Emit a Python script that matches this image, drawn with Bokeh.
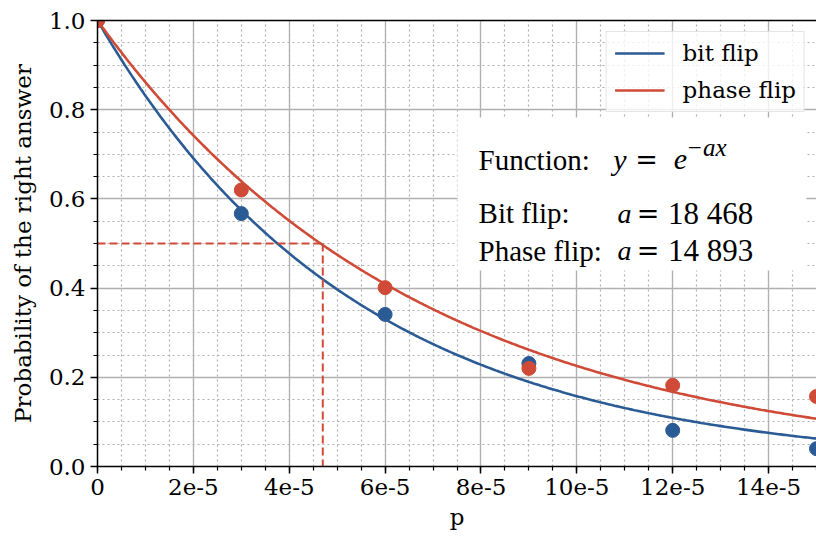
import numpy as np
from bokeh.plotting import figure
from bokeh.models import (FixedTicker, LinearAxis, Range1d, Label, BoxAnnotation,
                          Legend, LegendItem)
from bokeh.embed import file_html
from bokeh.resources import INLINE

# ---------------- data ----------------
p_values = [0.0, 3e-5, 6e-5, 9e-5, 12e-5, 15e-5]
bit_flip_prob = [1.0, 0.567, 0.341, 0.231, 0.081, 0.040]
phase_flip_prob = [1.0, 0.620, 0.401, 0.220, 0.182, 0.157]
fit_a = {"bit flip": 18468, "phase flip": 14893}
series_names = ["bit flip", "phase flip"]
x_ticks = [0.0, 2e-5, 4e-5, 6e-5, 8e-5, 10e-5, 12e-5, 14e-5]
x_tick_labels = ["0", "2e-5", "4e-5", "6e-5", "8e-5", "10e-5", "12e-5", "14e-5"]
y_ticks = [0.0, 0.2, 0.4, 0.6, 0.8, 1.0]
y_tick_labels = ["0.0", "0.2", "0.4", "0.6", "0.8", "1.0"]
half_p = 4.7e-5
half_prob = 0.5
box_lines = ["Function:", "Bit flip:", "Phase flip:"]
a_texts = ["18 468", "14 893"]

BLUE = "#2b5b95"
RED = "#cf4b37"
TICK_FONT = "DejaVu Serif"
BOX_FONT = "Liberation Serif"

p = figure(width=816, height=536, output_backend="svg", toolbar_location=None,
           x_range=Range1d(0, 15e-5), y_range=Range1d(0, 1.0),
           min_border_left=97, min_border_right=0, min_border_top=20,
           min_border_bottom=70, background_fill_color="white",
           border_fill_color="white", outline_line_color=None)

# ticks
x_minor = list(np.round(np.arange(0, 15.01e-5, 0.5e-5), 12))
y_minor = list(np.round(np.arange(0, 1.001, 0.05), 6))
p.xaxis.ticker = FixedTicker(ticks=x_ticks, minor_ticks=x_minor)
p.yaxis.ticker = FixedTicker(ticks=y_ticks, minor_ticks=y_minor)
p.xaxis.major_label_overrides = {t: l for t, l in zip(x_ticks, x_tick_labels)}
p.yaxis.major_label_overrides = {t: l for t, l in zip(y_ticks, y_tick_labels)}

for ax in (p.xaxis[0], p.yaxis[0]):
    ax.axis_line_color = "black"
    ax.axis_line_width = 1.5
    ax.major_tick_line_color = "black"
    ax.major_tick_line_width = 1.5
    ax.minor_tick_line_color = "black"
    ax.minor_tick_line_width = 1.2
    ax.major_tick_out = 7
    ax.major_tick_in = 0
    ax.minor_tick_out = 4
    ax.minor_tick_in = 0
    ax.major_label_text_font = TICK_FONT
    ax.major_label_text_font_size = "23px"
    ax.major_label_text_color = "black"
    ax.major_label_standoff = 5
    ax.axis_label_text_font = TICK_FONT
    ax.axis_label_text_font_size = "23px"
    ax.axis_label_text_font_style = "normal"
    ax.axis_label_text_color = "black"

p.xaxis.axis_label = "p"
p.xaxis.axis_label_standoff = 6
p.yaxis.axis_label = "Probability of the right answer"
p.yaxis.axis_label_standoff = 10

# top spine
top_axis = LinearAxis(ticker=FixedTicker(ticks=[]), axis_line_color="black",
                      axis_line_width=1.5, major_tick_out=0, major_tick_in=0,
                      minor_tick_out=0, minor_tick_in=0, major_label_standoff=0)
p.add_layout(top_axis, "above")

# grids
for g in (p.xgrid[0], p.ygrid[0]):
    g.grid_line_color = "#b0b0b0"
    g.grid_line_width = 1.3
    g.minor_grid_line_color = "#b0b0b0"
    g.minor_grid_line_width = 1.2
    g.minor_grid_line_dash = "2 3"

# fitted curves
x_fit = np.linspace(0, 15e-5, 400)
colors = {"bit flip": BLUE, "phase flip": RED}
curve_r = {}
for name in series_names:
    curve_r[name] = p.line(x_fit, np.exp(-fit_a[name] * x_fit),
                           line_color=colors[name], line_width=2.6)

# half-probability dashed guide
p.line([0, half_p], [half_prob, half_prob], line_color=RED, line_width=2,
       line_dash="8 4")
p.line([half_p, half_p], [half_prob, 0], line_color=RED, line_width=2,
       line_dash="8 4")

# measured points
p.scatter(p_values, bit_flip_prob, size=14, fill_color=BLUE, line_color=BLUE)
p.scatter(p_values, phase_flip_prob, size=14, fill_color=RED, line_color=RED)

# legend
legend = Legend(items=[LegendItem(label=n, renderers=[curve_r[n]]) for n in series_names],
                location="top_right", margin=11, padding=8, spacing=11,
                glyph_width=50, glyph_height=24, label_height=24,
                label_standoff=18, label_text_font=TICK_FONT,
                label_text_font_size="23px", label_text_color="black",
                border_line_color="#cccccc", border_line_width=1,
                background_fill_color="white", background_fill_alpha=0.8)
p.add_layout(legend)

# text box
p.add_layout(BoxAnnotation(left=7.51e-5, right=14.79e-5, bottom=0.4395, top=0.7825,
                           fill_color="white", fill_alpha=1.0, line_color=None))

line_y = [0.6883, 0.5673, 0.4843]
for txt, yy in zip(box_lines, line_y):
    p.add_layout(Label(x=7.95e-5, y=yy, text=txt, text_font=BOX_FONT,
                       text_font_size="29px", text_color="black",
                       text_baseline="alphabetic"))

# formula y = e^{-ax}
p.add_layout(Label(x=10.76e-5, y=line_y[0], text="y", text_font=BOX_FONT,
                   text_font_style="italic", text_font_size="30px",
                   text_baseline="alphabetic", text_color="black"))
p.add_layout(Label(x=11.22e-5, y=line_y[0], text="=", text_font=TICK_FONT,
                   text_font_size="27px", text_baseline="alphabetic", text_color="black"))
p.add_layout(Label(x=12.02e-5, y=line_y[0], text="e", text_font=BOX_FONT,
                   text_font_style="italic", text_font_size="30px",
                   text_baseline="alphabetic", text_color="black"))
p.add_layout(Label(x=12.28e-5, y=0.715, text="\u2212ax", text_font=BOX_FONT,
                   text_font_style="italic", text_font_size="25px",
                   text_baseline="alphabetic", text_color="black"))

for txt, yy in zip(a_texts, line_y[1:]):
    p.add_layout(Label(x=10.85e-5, y=yy, text="a", text_font=BOX_FONT,
                       text_font_style="italic", text_font_size="28px",
                       text_baseline="alphabetic", text_color="black"))
    p.add_layout(Label(x=11.25e-5, y=yy, text="=", text_font=TICK_FONT,
                       text_font_size="27px", text_baseline="alphabetic",
                       text_color="black"))
    p.add_layout(Label(x=11.90e-5, y=yy, text=txt, text_font=BOX_FONT,
                       text_font_size="31px", text_baseline="alphabetic",
                       text_color="black"))

open("out.html", "w").write(file_html(p, INLINE))
